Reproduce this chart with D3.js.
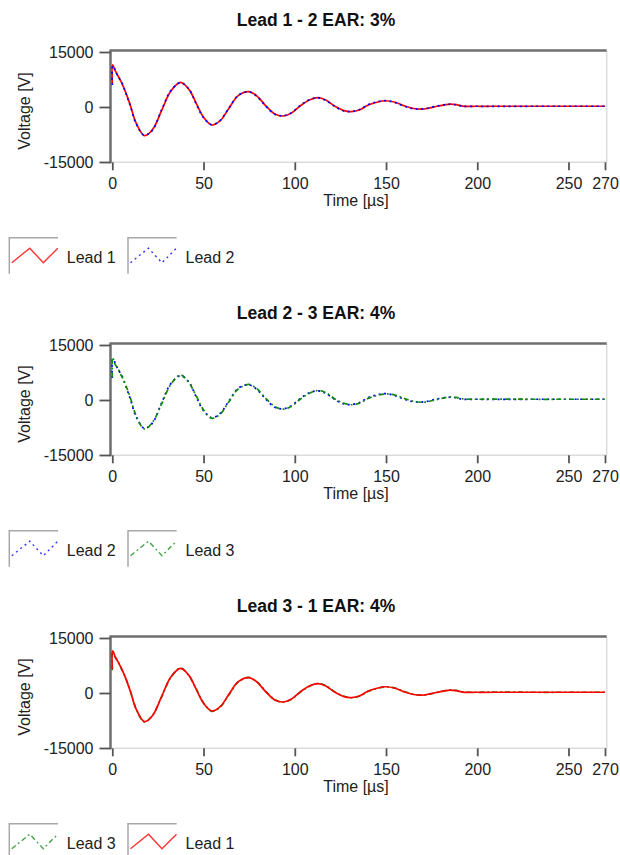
<!DOCTYPE html>
<html>
<head>
<meta charset="utf-8">
<script src="https://cdn.jsdelivr.net/npm/d3@7"></script>
<style>
  body { margin: 0; background: #fff; }
  text { font-family: "Liberation Sans", Arial, sans-serif; }
</style>
</head>
<body>
<svg id="chart" width="620" height="855"></svg>
<script>
// values (time in µs, voltage in V)
const time = [0, 0.2, 1.5, 3, 5, 7.5, 10, 13, 17.6, 22, 27, 32, 37.4, 42, 46, 50, 54.6, 59, 64, 69,
  74.7, 79, 84, 89, 93.6, 98, 103, 108, 112.8, 117, 122, 127, 131, 136, 140, 145, 149.5, 155, 160, 165,
  171, 178, 185, 189, 192, 200, 210, 230, 250, 270]

const lead1 = [6500, 11500, 10000, 8600, 6700, 3800, 300, -4300, -7800, -6200, -1000, 4300, 6700, 4800, 1000, -2800, -4900, -3800, -300, 3100,
  4200, 3100, 400, -1900, -2450, -1700, 300, 1900, 2550, 1900, 200, -1000, -1270, -700, 500, 1300, 1700, 1300, 300, -400,
  -550, 200, 800, 600, 250, 200, 200, 200, 200, 200]

const lead2 = [6000, 11200, 10200, 8400, 6900, 3600, 100, -4500, -7700, -6300, -800, 4400, 6600, 4900, 800, -2900, -4850, -3700, -200, 3200,
  4150, 3000, 300, -2000, -2400, -1600, 400, 2000, 2500, 1800, 100, -1100, -1250, -600, 600, 1400, 1750, 1200, 200, -450,
  -500, 300, 750, 550, 200, 200, 150, 200, 200, 200]

const lead3 = [6200, 11600, 9800, 8700, 6600, 3900, 400, -4200, -7900, -6100, -1100, 4200, 6800, 4700, 1100, -2700, -5000, -3900, -400, 3000,
  4250, 3200, 500, -1800, -2500, -1800, 200, 1800, 2600, 2000, 300, -900, -1300, -800, 400, 1200, 1650, 1350, 400, -350,
  -600, 150, 850, 650, 300, 200, 250, 200, 200, 200]

const yTicks = [-15000, 0, 15000]
const xTicks = [0, 50, 100, 150, 200, 250, 270]

const styles = {
  'Lead 1': { values: lead1, color: '#ff0000', dash: null },
  'Lead 2': { values: lead2, color: '#0000ff', dash: '2,3.5' },
  'Lead 3': { values: lead3, color: '#108a10', dash: '5,3,1.8,3' }
}

const charts = [
  { title: 'Lead 1 - 2 EAR: 3%', draw: ['Lead 1', 'Lead 2'], legend: ['Lead 1', 'Lead 2'] },
  { title: 'Lead 2 - 3 EAR: 4%', draw: ['Lead 2', 'Lead 3'], legend: ['Lead 2', 'Lead 3'] },
  { title: 'Lead 3 - 1 EAR: 4%', draw: ['Lead 3', 'Lead 1'], legend: ['Lead 3', 'Lead 1'] }
]

const svg = d3.select('#chart')
const plot = { left: 110.5, right: 606.7, top: 50.5, bottom: 162.3 }

const x = d3.scaleLinear().domain([0, 270]).range([112.3, 605])
const y = d3.scaleLinear().domain([-15000, 15000]).range([162, 52])

const line = d3.line()
  .x(d => x(d[0]))
  .y(d => y(d[1]))
  .curve(d3.curveCatmullRom.alpha(0.5))

function drawChart(cfg, i) {
  const g = svg.append('g').attr('transform', `translate(0,${i * 293})`)

  g.append('text')
    .attr('x', 316).attr('y', 26)
    .attr('text-anchor', 'middle')
    .attr('font-size', 17.5).attr('font-weight', 'bold')
    .attr('fill', '#111')
    .text(cfg.title)

  // frame: light right/bottom, dark top/left
  g.append('line').attr('x1', plot.right).attr('x2', plot.right).attr('y1', plot.top).attr('y2', plot.bottom)
    .attr('stroke', '#dcdcdc').attr('stroke-width', 1.5)
  g.append('line').attr('x1', plot.left).attr('x2', plot.right).attr('y1', plot.bottom).attr('y2', plot.bottom)
    .attr('stroke', '#dcdcdc').attr('stroke-width', 1.5)
  g.append('line').attr('x1', plot.left).attr('x2', plot.right).attr('y1', plot.top).attr('y2', plot.top)
    .attr('stroke', '#6e6e6e').attr('stroke-width', 2.5)
  g.append('line').attr('x1', plot.left).attr('x2', plot.left).attr('y1', plot.top - 1).attr('y2', plot.bottom + 1)
    .attr('stroke', '#6e6e6e').attr('stroke-width', 2.5)

  const yAxis = g.append('g')
    .attr('transform', `translate(${plot.left},0)`)
    .call(d3.axisLeft(y).tickValues(yTicks).tickSize(11).tickPadding(6).tickFormat(d3.format('d')))
  const xAxis = g.append('g')
    .attr('transform', `translate(0,${plot.bottom})`)
    .call(d3.axisBottom(x).tickValues(xTicks).tickSize(8).tickPadding(7))

  for (const ax of [yAxis, xAxis]) {
    ax.select('.domain').remove()
    ax.selectAll('.tick line').attr('stroke', '#555').attr('stroke-width', 1.8)
    ax.selectAll('.tick text').attr('font-size', 16).attr('fill', '#222')
      .style('font-family', '"Liberation Sans", Arial, sans-serif')
  }
  yAxis.selectAll('.tick text').text(d => d < 0 ? '-' + Math.abs(d) : d)

  g.append('text')
    .attr('transform', 'translate(30,111) rotate(-90)')
    .attr('text-anchor', 'middle')
    .attr('font-size', 16).attr('fill', '#222')
    .text('Voltage [V]')

  g.append('text')
    .attr('x', 356).attr('y', 206)
    .attr('text-anchor', 'middle')
    .attr('font-size', 16).attr('fill', '#222')
    .text('Time [µs]')

  cfg.draw.forEach(name => {
    const s = styles[name]
    g.append('path')
      .datum(time.map((t, k) => [t, s.values[k]]))
      .attr('fill', 'none')
      .attr('stroke', s.color)
      .attr('stroke-width', 1.7)
      .attr('stroke-dasharray', s.dash)
      .attr('d', line)
  })

  // legend
  const legX = [9.3, 128]
  cfg.legend.forEach((name, k) => {
    const s = styles[name]
    const lg = g.append('g').attr('transform', `translate(${legX[k]},237.7)`)
    lg.append('path')
      .attr('d', 'M0,36V0H48.7')
      .attr('fill', 'none').attr('stroke', '#a8a8a8').attr('stroke-width', 1.5)
    lg.append('path')
      .attr('d', d3.line()([[2.5, 25], [20.5, 10.5], [34, 25], [48.5, 10.5]]))
      .attr('fill', 'none')
      .attr('stroke', s.color).attr('stroke-opacity', 0.8)
      .attr('stroke-width', 1.4)
      .attr('stroke-dasharray', s.dash)
    lg.append('text')
      .attr('x', 57.5).attr('y', 25)
      .attr('font-size', 16).attr('fill', '#222')
      .text(name)
  })
}

charts.forEach(drawChart)
</script>
</body>
</html>
